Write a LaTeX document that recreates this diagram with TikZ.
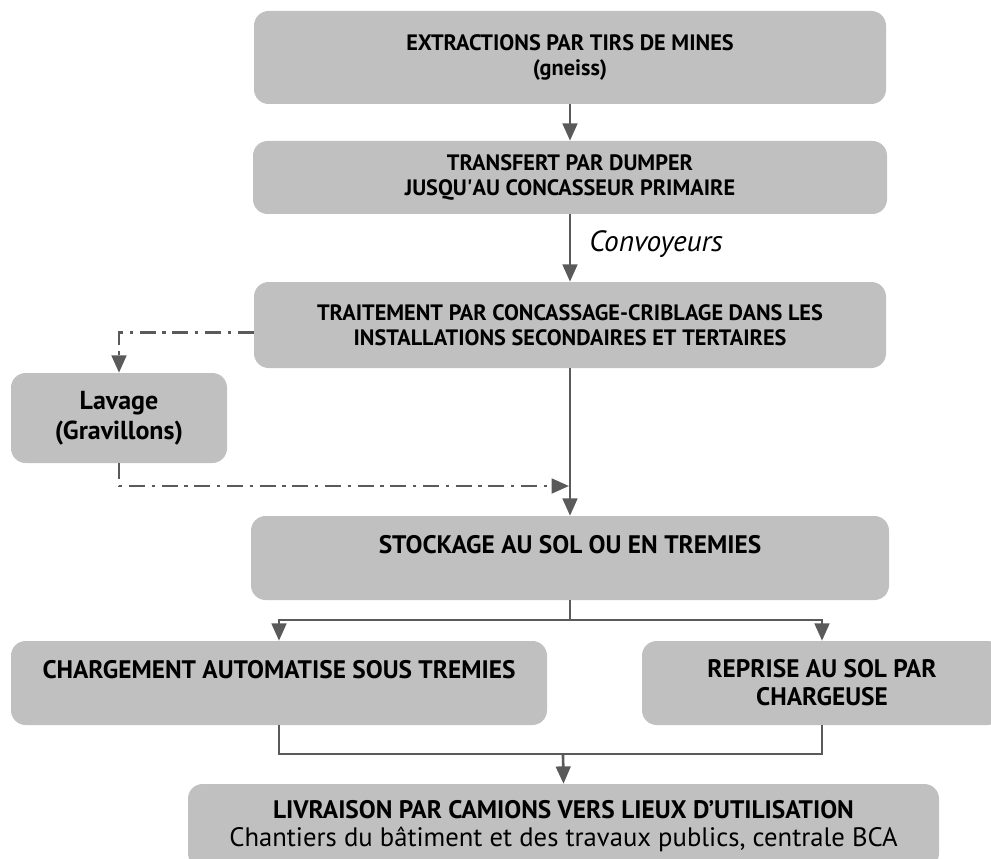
\documentclass[tikz,border=0pt]{standalone}
\usepackage{fontspec}
\setmainfont{PT Sans}
\usetikzlibrary{arrows.meta}
\definecolor{boxgray}{RGB}{192,192,192}
\definecolor{linegray}{RGB}{90,90,90}

\begin{document}
\begin{tikzpicture}[x=0.75pt, y=-0.75pt,
	box/.style={fill=boxgray, rounded corners=11pt, align=center, inner sep=0pt, font=\fontsize{16.7}{19}\selectfont\bfseries},
	bigbox/.style={box, font=\fontsize{19}{21}\selectfont\bfseries},
	flow/.style={draw=linegray, line width=2pt, -{Triangle[width=11pt,length=13pt]}},
	link/.style={draw=linegray, line width=2pt},
	dashdot/.style={flow, dash pattern=on 12pt off 5pt on 2.5pt off 5pt}]
\path[use as bounding box, clip] (0,0) rectangle (991,859);
\node[box, minimum width=474pt, minimum height=69.75pt] (extract) at (570,57.5) {EXTRACTIONS PAR TIRS DE MINES\\(gneiss)};
\node[box, minimum width=475.5pt, minimum height=54.75pt] (transfer) at (570,177.5) {TRANSFERT PAR DUMPER\\JUSQU\textquotesingle AU CONCASSEUR PRIMAIRE};
\node[box, minimum width=474pt, minimum height=64.5pt] (treat) at (570,325) {TRAITEMENT PAR CONCASSAGE-CRIBLAGE DANS LES\\INSTALLATIONS SECONDAIRES ET TERTAIRES};
\node[box, font=\fontsize{19.5}{22.5}\selectfont\bfseries, minimum width=162pt, minimum height=67.5pt] (wash) at (119,418) {Lavage\\(Gravillons)};
\node[bigbox, minimum width=478.5pt, minimum height=63pt] (stock) at (570,558) {STOCKAGE AU SOL OU EN TREMIES\\\mbox{}};
\node[bigbox, minimum width=402pt, minimum height=63pt] (load) at (279,683) {CHARGEMENT AUTOMATISE SOUS TREMIES\\\mbox{}};
\node[bigbox, minimum width=270pt, minimum height=63pt] (pick) at (822,683) {REPRISE AU SOL PAR\\CHARGEUSE};
\node[bigbox, minimum width=563.25pt, minimum height=63pt] (deliver) at (563.5,826) {LIVRAISON PAR CAMIONS VERS LIEUX D’UTILISATION\\{\mdseries\fontsize{20}{21}\selectfont Chantiers du bâtiment et des travaux publics, centrale BCA}};
\node[font=\fontsize{22}{24}\selectfont\itshape, anchor=west, inner sep=0pt] (conv) at (589,244) {Convoyeurs};
\coordinate (join) at (569,486);
\coordinate (split) at (570,620);
\coordinate (merge) at (563,754);

\draw[flow] (extract) -- (transfer);
\draw[flow] (transfer) -- (treat);
\draw[flow] (treat) -- (stock);
\draw[dashdot] (treat.north west) ++(0,51) -| (wash.north);
\draw[dashdot] (wash.south) |- (join);
\draw[link] (stock.south) -- (split);
\draw[flow] (split) -| (load.north);
\draw[flow] (split) -| (pick.north);
\draw[link] (load.south) |- (merge) -| (pick.south);
\draw[flow] (merge) -- (deliver.north);
\end{tikzpicture}
\end{document}
